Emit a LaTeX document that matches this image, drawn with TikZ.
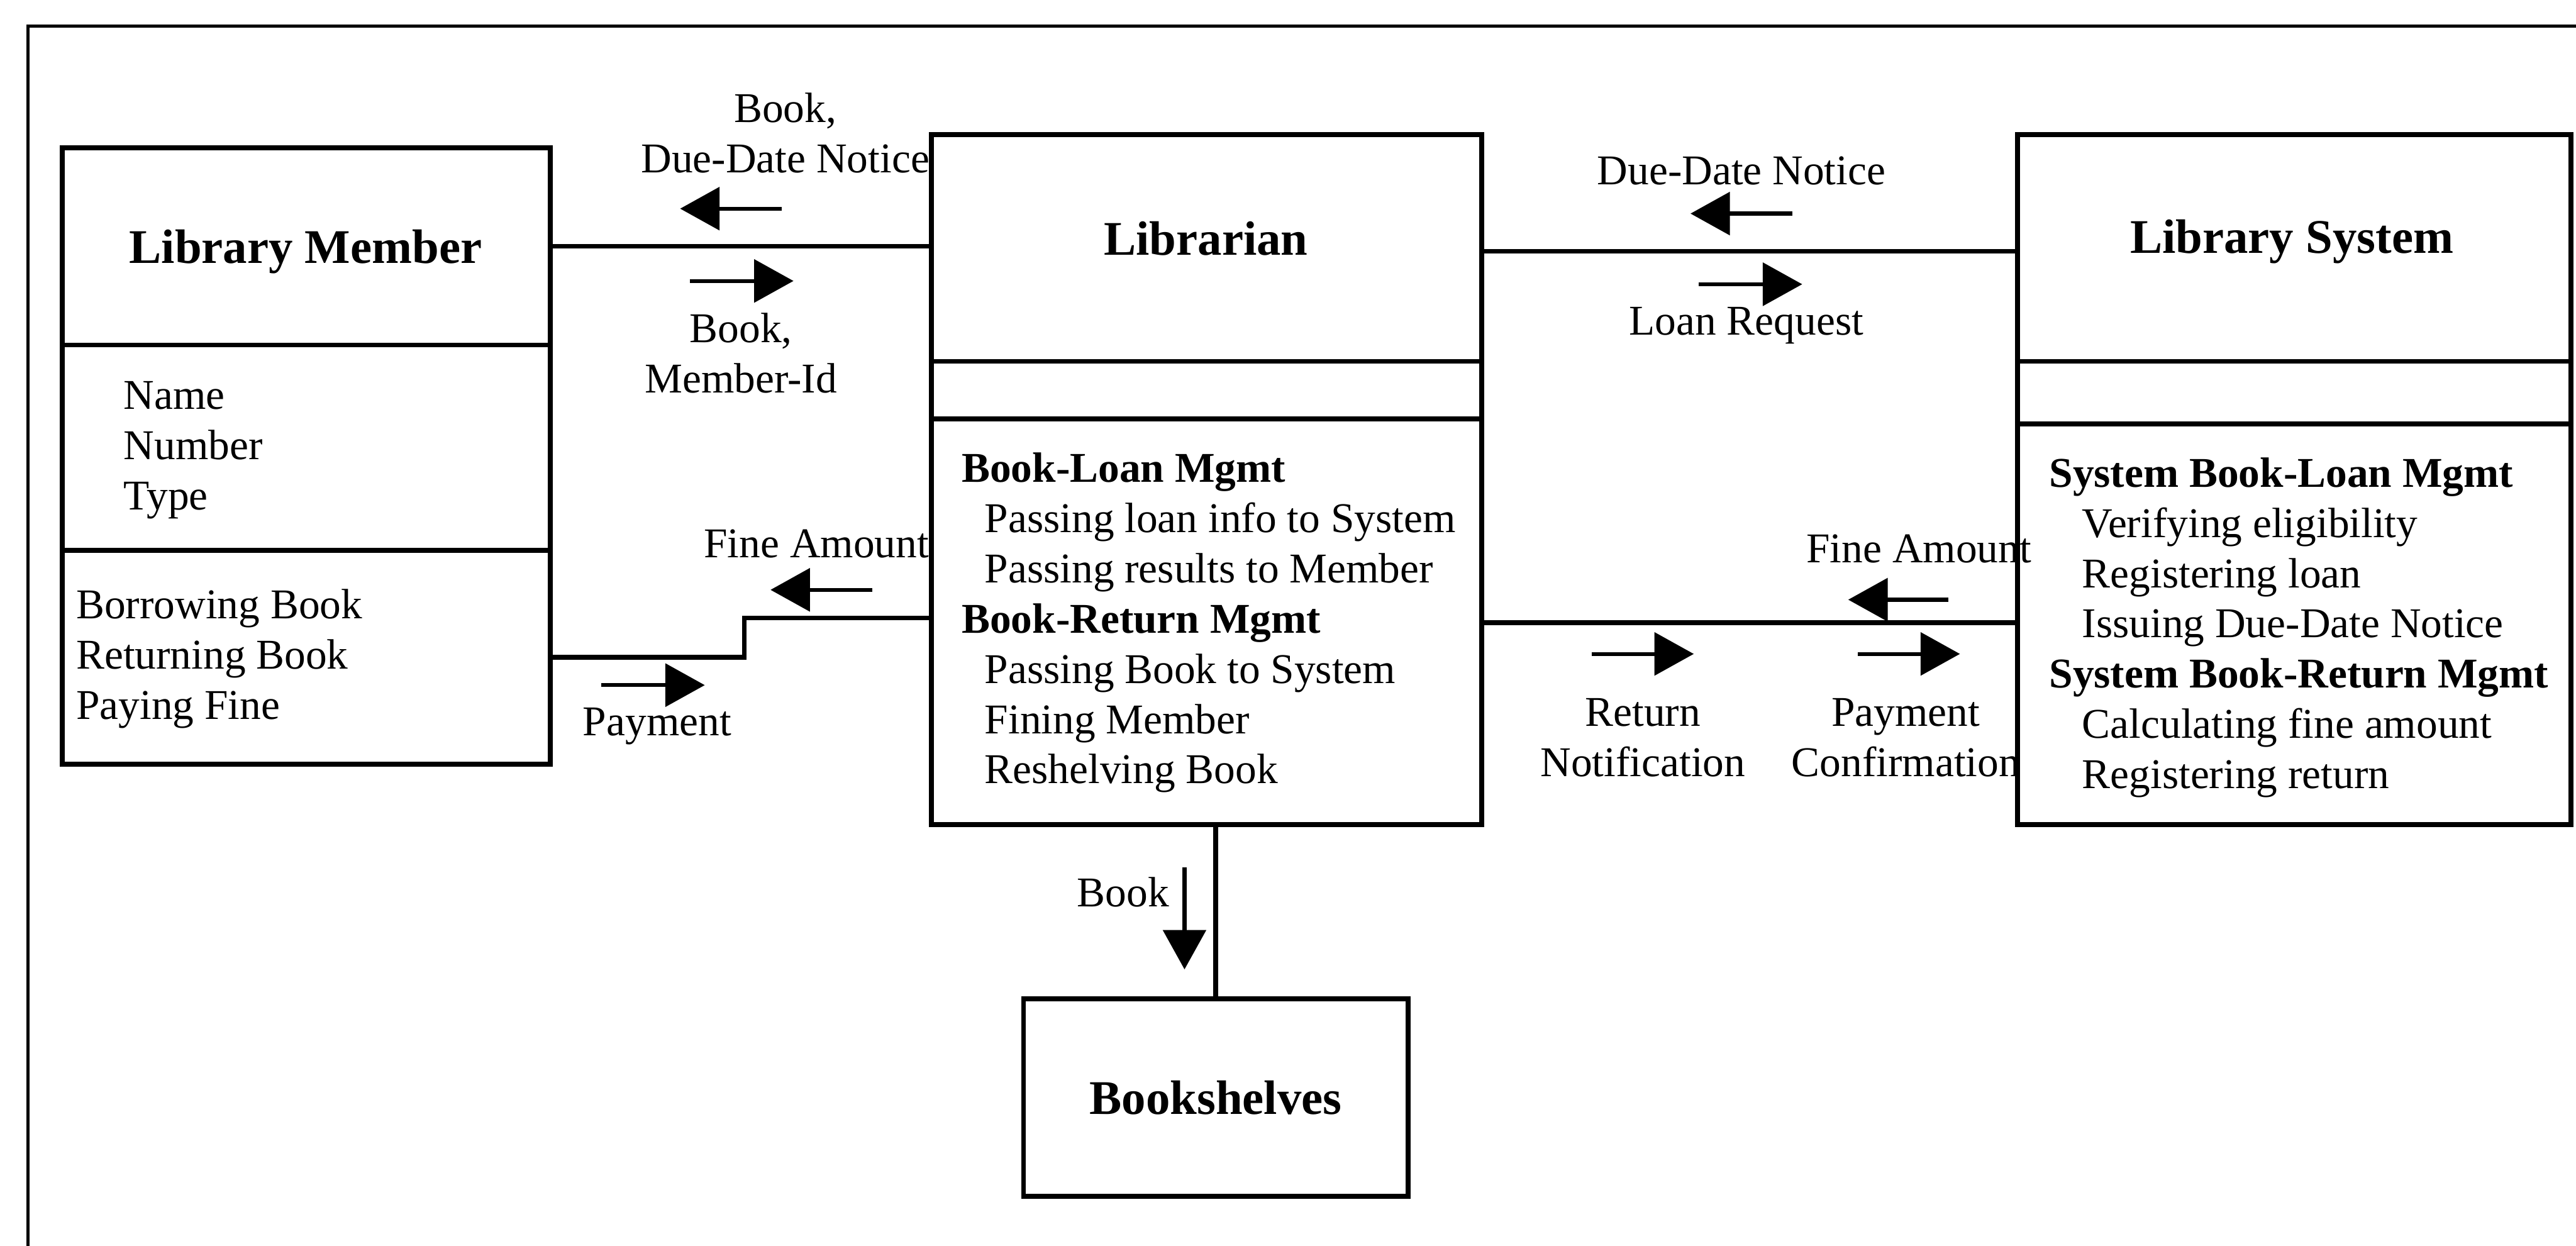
\documentclass[tikz,border=0pt]{standalone}
\usepackage{fontspec}
\setmainfont{Liberation Serif}
\usetikzlibrary{arrows.meta}
\begin{document}
\begin{tikzpicture}[x=0.5pt,y=-0.5pt,
  box/.style={draw, line width=1.5pt, inner sep=0pt},
  link/.style={line width=1.4pt},
  frame/.style={line width=1pt},
  flow/.style={line width=1.2pt, -{Triangle[length=12pt,width=13pt]}},
  title/.style={font=\fontsize{14.7}{18}\selectfont\bfseries, inner sep=0pt},
  txt/.style={font=\fontsize{12.9}{15.3}\selectfont, inner sep=0pt, align=left, anchor=west},
  lbl/.style={font=\fontsize{12.9}{15.3}\selectfont, inner sep=0pt, align=center}]
\useasboundingbox[fill=white] (0,0) rectangle (1568,758);

% surrounding frame
\draw[frame] (17,770) -- (17,16) -- (1580,16);

% class boxes
\node[box, minimum width=148.5pt, minimum height=187.5pt] (LM) at (186.5,277.5) {};
\node[box, minimum width=167.5pt, minimum height=210pt] (LB) at (734.5,292) {};
\node[box, minimum width=168.5pt, minimum height=210pt] (LS) at (1396.5,292) {};
\node[box, minimum width=117pt, minimum height=60pt] (BS) at (740,668) {};

% compartment dividers
\coordinate (d1) at (0,210);
\coordinate (d2) at (0,335);
\coordinate (d3) at (0,220);
\coordinate (d4) at (0,255);
\coordinate (d5) at (0,258);
\draw[link] (LM.west |- d1) -- (LM.east |- d1);
\draw[link] (LM.west |- d2) -- (LM.east |- d2);
\draw[link] (LB.west |- d3) -- (LB.east |- d3);
\draw[link] (LB.west |- d4) -- (LB.east |- d4);
\draw[link] (LS.west |- d3) -- (LS.east |- d3);
\draw[link] (LS.west |- d5) -- (LS.east |- d5);

% titles
\node[title] (tLM) at (186,153) {Library Member};
\node[title] (tLB) at (734,145) {Librarian};
\node[title] (tLS) at (1395,147) {Library System};
\node[title] (tBS) at (740,668) {Bookshelves};

% attributes and operations
\node[txt] (aLM) at (75,274) {Name\\Number\\Type};
\node[txt] (oLM) at (46,401) {Borrowing Book\\Returning Book\\Paying Fine};
\node[txt] (oLB) at (585,379) {\textbf{Book-Loan Mgmt}\\
  \hspace*{7pt}Passing loan info to System\\
  \hspace*{7pt}Passing results to Member\\
  \textbf{Book-Return Mgmt}\\
  \hspace*{7pt}Passing Book to System\\
  \hspace*{7pt}Fining Member\\
  \hspace*{7pt}Reshelving Book};
\node[txt] (oLS) at (1247,382) {\textbf{System Book-Loan Mgmt}\\
  \hspace*{10pt}Verifying eligibility\\
  \hspace*{10pt}Registering loan\\
  \hspace*{10pt}Issuing Due-Date Notice\\
  \textbf{System Book-Return Mgmt}\\
  \hspace*{10pt}Calculating fine amount\\
  \hspace*{10pt}Registering return};

% associations
\coordinate (r1) at (0,150);
\coordinate (r2) at (0,153);
\coordinate (r3) at (0,379);
\coordinate (s1) at (453,400);
\coordinate (s2) at (453,376);
\draw[link] (LM.east |- r1) -- (LB.west |- r1);
\draw[link] (LB.east |- r2) -- (LS.west |- r2);
\draw[link] (LM.east |- s1) -- (s1) |- (LB.west |- s2);
\draw[link] (LB.east |- r3) -- (LS.west |- r3);
\draw[link] (LB.south -| BS.north) -- (BS.north);

% message arrows
\coordinate (m1a) at (476,127);  \coordinate (m1b) at (414,127);
\coordinate (m2a) at (420,171);  \coordinate (m2b) at (483,171);
\coordinate (m3a) at (1091,130); \coordinate (m3b) at (1029,130);
\coordinate (m4a) at (1034,173); \coordinate (m4b) at (1097,173);
\coordinate (m5a) at (531,359);  \coordinate (m5b) at (469,359);
\coordinate (m6a) at (366,417);  \coordinate (m6b) at (429,417);
\coordinate (m7a) at (969,398);  \coordinate (m7b) at (1031,398);
\coordinate (m8a) at (1186,365); \coordinate (m8b) at (1125,365);
\coordinate (m9a) at (1131,398); \coordinate (m9b) at (1193,398);
\coordinate (m10a) at (721,528); \coordinate (m10b) at (721,590);
\draw[flow] (m1a) -- (m1b);
\draw[flow] (m2a) -- (m2b);
\draw[flow] (m3a) -- (m3b);
\draw[flow] (m4a) -- (m4b);
\draw[flow] (m5a) -- (m5b);
\draw[flow] (m6a) -- (m6b);
\draw[flow] (m7a) -- (m7b);
\draw[flow] (m8a) -- (m8b);
\draw[flow] (m9a) -- (m9b);
\draw[flow] (m10a) -- (m10b);

% message labels
\node[lbl] (l1) at (478,81) {Book,\\Due-Date Notice};
\node[lbl] (l2) at (451,215) {Book,\\Member-Id};
\node[lbl] (l3) at (1060,104) {Due-Date Notice};
\node[lbl] (l4) at (1063,198) {Loan Request};
\node[lbl] (l5) at (497,331) {Fine Amount};
\node[lbl] (l6) at (400,442) {Payment};
\node[lbl] (l7) at (1000,449) {Return\\Notification};
\node[lbl] (l8) at (1168,334) {Fine Amount};
\node[lbl] (l9) at (1160,449) {Payment\\Confirmation};
\node[lbl, anchor=east] (l10) at (712,543) {Book};
\end{tikzpicture}
\end{document}
